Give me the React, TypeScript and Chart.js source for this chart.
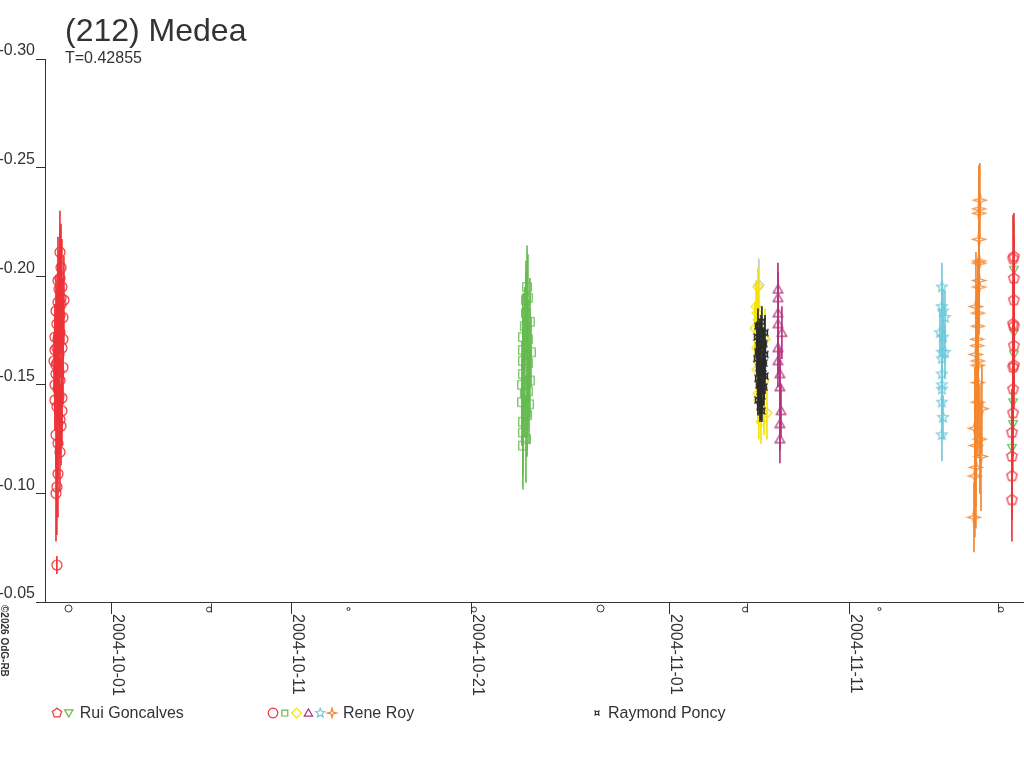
import { useEffect, useRef } from 'react';
import { Chart, registerables } from 'chart.js';

Chart.register(...registerables);

const FONT = '"Liberation Sans", Arial, sans-serif';
const TEXT = '#333333';

// x values are days counted from 2004-10-01 00:00 UT
const titleText = '(212) Medea';
const subtitleText = 'T=0.42855';
const copyrightText = '\u00a92026 OdG-RB';

const xTickDays = [0, 10, 20, 31, 41];
const xTickLabels = ['2004-10-01', '2004-10-11', '2004-10-21', '2004-11-01', '2004-11-11'];
const yTickValues = [-0.3, -0.25, -0.2, -0.15, -0.1, -0.05];

const moonDays = [-2.45, 5.43, 13.12, 19.92, 27.13, 35.25, 42.6, 49.24];
const moonPhases = ['full', 'last', 'new', 'first', 'full', 'last', 'new', 'first'];

// Rene Roy, red circles
const royRedDays = [-3.06, -3.11, -3.06, -3.0, -2.89, -3.0, -3.11, -2.83, -2.89, -3.06, -3.17, -2.78, -3.0, -3.17, -2.89, -3.11, -2.72, -3.06, -2.94, -3.17, -2.78, -3.0, -3.17, -2.89, -3.06, -2.72, -2.89, -3.11, -3.0, -2.83, -2.94, -2.78, -3.0, -2.89, -2.83, -2.89, -3.22, -2.72, -3.11, -2.94, -2.78, -2.83, -2.67, -3.06, -2.94];
const royRedMags = [-0.067, -0.1, -0.103, -0.109, -0.119, -0.123, -0.127, -0.131, -0.134, -0.14, -0.143, -0.144, -0.148, -0.15, -0.152, -0.155, -0.158, -0.16, -0.164, -0.166, -0.167, -0.171, -0.172, -0.174, -0.178, -0.181, -0.182, -0.184, -0.188, -0.19, -0.194, -0.195, -0.198, -0.199, -0.204, -0.211, -0.161, -0.171, -0.159, -0.145, -0.138, -0.187, -0.189, -0.167, -0.156];
const royRedErrs = [0.004, 0.022, 0.022, 0.02, 0.018, 0.016, 0.015, 0.018, 0.016, 0.015, 0.014, 0.016, 0.015, 0.014, 0.016, 0.015, 0.017, 0.015, 0.016, 0.014, 0.018, 0.016, 0.015, 0.017, 0.016, 0.018, 0.017, 0.016, 0.018, 0.02, 0.018, 0.022, 0.02, 0.022, 0.02, 0.019, 0.013, 0.018, 0.014, 0.015, 0.016, 0.018, 0.02, 0.015, 0.016];

// Rene Roy, green squares
const royGreenDays = [23.06, 23.11, 23.0, 23.22, 22.94, 22.83, 23.11, 22.83, 23.28, 22.83, 23.11, 22.83, 23.22, 22.78, 23.11, 22.78, 23.17, 22.83, 22.83, 23.0, 22.83, 23.0, 23.06, 22.94, 23.06];
const royGreenMags = [-0.195, -0.19, -0.189, -0.179, -0.177, -0.172, -0.171, -0.166, -0.165, -0.161, -0.16, -0.155, -0.152, -0.15, -0.147, -0.142, -0.141, -0.133, -0.128, -0.125, -0.122, -0.183, -0.164, -0.146, -0.136];
const royGreenErrs = [0.019, 0.02, 0.018, 0.02, 0.018, 0.02, 0.018, 0.02, 0.016, 0.02, 0.018, 0.02, 0.017, 0.02, 0.018, 0.02, 0.018, 0.022, 0.02, 0.02, 0.02, 0.018, 0.019, 0.02, 0.019];

// Rene Roy, yellow diamonds
const royYellowDays = [35.89, 35.78, 35.83, 35.89, 35.72, 36.28, 35.83, 35.89, 35.83, 36.22, 35.89, 35.94, 36.39, 36.06];
const royYellowMags = [-0.195, -0.186, -0.183, -0.18, -0.176, -0.171, -0.167, -0.161, -0.157, -0.152, -0.146, -0.143, -0.137, -0.133];
const royYellowErrs = [0.009, 0.012, 0.012, 0.014, 0.012, 0.014, 0.012, 0.014, 0.012, 0.025, 0.014, 0.018, 0.012, 0.01];

// rejected point, grey diamond
const greyDays = [35.94];
const greyMags = [-0.196];
const greyErrs = [0.012];

// Rene Roy, magenta triangles
const royMagentaDays = [37.0, 37.0, 37.0, 37.0, 37.22, 37.0, 37.0, 37.11, 37.11, 37.17, 37.11, 37.11];
const royMagentaMags = [-0.194, -0.19, -0.183, -0.178, -0.174, -0.167, -0.161, -0.155, -0.149, -0.138, -0.132, -0.125];
const royMagentaErrs = [0.012, 0.012, 0.012, 0.012, 0.012, 0.012, 0.012, 0.012, 0.012, 0.012, 0.012, 0.011];

// Rene Roy, cyan stars
const royCyanDays = [46.11, 46.11, 46.17, 46.28, 46.0, 46.17, 46.11, 46.28, 46.11, 46.11, 46.11, 46.11, 46.11, 46.17, 46.11];
const royCyanMags = [-0.195, -0.186, -0.184, -0.181, -0.174, -0.172, -0.165, -0.165, -0.162, -0.155, -0.15, -0.148, -0.142, -0.135, -0.127];
const royCyanErrs = [0.011, 0.01, 0.01, 0.012, 0.01, 0.01, 0.011, 0.012, 0.01, 0.01, 0.011, 0.01, 0.01, 0.01, 0.012];

// Rene Roy, orange four-point stars
const royOrangeDays = [48.22, 48.17, 48.17, 48.17, 48.17, 48.17, 48.17, 48.17, 48.0, 48.11, 48.11, 48.06, 48.06, 48.0, 48.11, 48.11, 48.11, 48.11, 48.33, 47.94, 48.22, 48.0, 48.28, 48.0, 47.94, 47.89];
const royOrangeMags = [-0.235, -0.231, -0.229, -0.217, -0.207, -0.206, -0.198, -0.195, -0.186, -0.183, -0.177, -0.171, -0.168, -0.164, -0.161, -0.159, -0.151, -0.142, -0.139, -0.13, -0.125, -0.122, -0.117, -0.112, -0.108, -0.089];
const royOrangeErrs = [0.017, 0.02, 0.02, 0.022, 0.022, 0.02, 0.022, 0.022, 0.025, 0.025, 0.025, 0.025, 0.025, 0.025, 0.025, 0.025, 0.025, 0.025, 0.02, 0.028, 0.025, 0.028, 0.025, 0.028, 0.028, 0.016];

// Raymond Poncy, black
const ponDays = [36.11, 35.89, 36.06, 36.28, 35.83, 36.0, 36.22, 35.94, 36.17, 35.89, 36.28, 35.83, 36.06, 36.22, 35.94, 36.0, 36.17, 36.28, 35.89, 36.06, 35.94, 36.22, 36.0, 36.11, 35.89, 36.06, 36.0, 36.11];
const ponMags = [-0.179, -0.177, -0.175, -0.174, -0.172, -0.171, -0.169, -0.168, -0.166, -0.165, -0.164, -0.162, -0.161, -0.16, -0.158, -0.157, -0.155, -0.154, -0.153, -0.151, -0.15, -0.149, -0.147, -0.145, -0.143, -0.142, -0.14, -0.138];
const ponErrs = [0.007, 0.008, 0.007, 0.008, 0.007, 0.008, 0.007, 0.008, 0.007, 0.008, 0.007, 0.008, 0.007, 0.008, 0.007, 0.008, 0.007, 0.008, 0.007, 0.008, 0.007, 0.008, 0.007, 0.008, 0.007, 0.008, 0.007, 0.005];

// Rui Goncalves, red pentagons
const ruiRedDays = [50.11, 50.06, 50.11, 50.11, 50.06, 50.11, 50.11, 50.11, 50.06, 50.06, 50.06, 50.0, 50.0, 50.0, 50.0];
const ruiRedMags = [-0.209, -0.208, -0.199, -0.189, -0.178, -0.177, -0.168, -0.159, -0.158, -0.148, -0.137, -0.128, -0.117, -0.108, -0.097];
const ruiRedErrs = [0.02, 0.02, 0.02, 0.02, 0.02, 0.02, 0.02, 0.02, 0.02, 0.02, 0.02, 0.02, 0.02, 0.02, 0.019];

// Rui Goncalves, green down triangles
const ruiGreenDays = [50.11, 50.11, 50.11, 50.06, 50.06, 50.0];
const ruiGreenMags = [-0.203, -0.174, -0.164, -0.142, -0.132, -0.121];
const ruiGreenErrs = [0.022, 0.022, 0.022, 0.022, 0.022, 0.022];

const RED = '#ee3338';
const GREEN = '#66bb50';
const YELLOW = '#f5e400';
const MAGENTA = '#b3337e';
const CYAN = '#6ecadb';
const ORANGE = '#f4862e';
const BLACK = '#2a2a2a';
const GREY = '#c8c8c8';

type Shape = 'circle' | 'square' | 'diamond' | 'triangle' | 'triangleDown' | 'pentagon' | 'star5' | 'star4' | 'currency';

// listed bottom to top, in the order they are painted
const series = [
  { label: 'Rene Roy red', shape: 'circle' as Shape, color: RED, r: 5, days: royRedDays, mags: royRedMags, errs: royRedErrs },
  { label: 'Rene Roy green', shape: 'square' as Shape, color: GREEN, r: 5, days: royGreenDays, mags: royGreenMags, errs: royGreenErrs },
  { label: 'rejected', shape: 'diamond' as Shape, color: GREY, r: 5, days: greyDays, mags: greyMags, errs: greyErrs },
  { label: 'Rene Roy yellow', shape: 'diamond' as Shape, color: YELLOW, r: 5, days: royYellowDays, mags: royYellowMags, errs: royYellowErrs },
  { label: 'Raymond Poncy', shape: 'currency' as Shape, color: BLACK, r: 5, days: ponDays, mags: ponMags, errs: ponErrs },
  { label: 'Rene Roy magenta', shape: 'triangle' as Shape, color: MAGENTA, r: 5.5, days: royMagentaDays, mags: royMagentaMags, errs: royMagentaErrs },
  { label: 'Rene Roy cyan', shape: 'star5' as Shape, color: CYAN, r: 5.5, days: royCyanDays, mags: royCyanMags, errs: royCyanErrs },
  { label: 'Rene Roy orange', shape: 'star4' as Shape, color: ORANGE, r: 6.5, days: royOrangeDays, mags: royOrangeMags, errs: royOrangeErrs },
  { label: 'Rui Goncalves green', shape: 'triangleDown' as Shape, color: GREEN, r: 5, days: ruiGreenDays, mags: ruiGreenMags, errs: ruiGreenErrs },
  { label: 'Rui Goncalves red', shape: 'pentagon' as Shape, color: RED, r: 5.5, days: ruiRedDays, mags: ruiRedMags, errs: ruiRedErrs },
];

const legendGroups: { name: string; marks: [Shape, string][] }[] = [
  { name: 'Rui Goncalves', marks: [['pentagon', RED], ['triangleDown', GREEN]] },
  { name: 'Rene Roy', marks: [['circle', RED], ['square', GREEN], ['diamond', YELLOW], ['triangle', MAGENTA], ['star5', CYAN], ['star4', ORANGE]] },
  { name: 'Raymond Poncy', marks: [['currency', BLACK]] },
];
const legendStarts = [57, 273, 597];

function polygon(ctx: CanvasRenderingContext2D, x: number, y: number, n: number, outer: number, inner: number | null, rot: number) {
  const pts = inner == null ? n : n * 2;
  for (let i = 0; i < pts; i++) {
    const a = rot + (i * Math.PI * 2) / pts;
    const rr = inner == null || i % 2 === 0 ? outer : inner;
    const px = x + rr * Math.cos(a);
    const py = y + rr * Math.sin(a);
    if (i === 0) ctx.moveTo(px, py);
    else ctx.lineTo(px, py);
  }
  ctx.closePath();
}

function drawShape(ctx: CanvasRenderingContext2D, shape: Shape, x: number, y: number, r: number) {
  ctx.beginPath();
  const up = -Math.PI / 2;
  switch (shape) {
    case 'circle':
      ctx.arc(x, y, r, 0, Math.PI * 2);
      break;
    case 'square': {
      const s = r * 0.85;
      ctx.rect(x - s, y - s, 2 * s, 2 * s);
      break;
    }
    case 'diamond':
      polygon(ctx, x, y, 4, r, null, up);
      break;
    case 'triangle':
      polygon(ctx, x, y + r * 0.15, 3, r, null, up);
      break;
    case 'triangleDown':
      polygon(ctx, x, y - r * 0.15, 3, r, null, Math.PI / 2);
      break;
    case 'pentagon':
      polygon(ctx, x, y, 5, r, null, up);
      break;
    case 'star5':
      polygon(ctx, x, y, 5, r, r * 0.45, up);
      break;
    case 'star4':
      polygon(ctx, x, y, 4, r, r * 0.3, up);
      break;
    case 'currency': {
      const c = r * 0.5;
      ctx.arc(x, y, c, 0, Math.PI * 2);
      for (let k = 0; k < 4; k++) {
        const a = Math.PI / 4 + (k * Math.PI) / 2;
        ctx.moveTo(x + c * Math.cos(a), y + c * Math.sin(a));
        ctx.lineTo(x + r * Math.cos(a), y + r * Math.sin(a));
      }
      break;
    }
  }
  ctx.stroke();
}

function markerCanvas(shape: Shape, color: string, r: number) {
  const size = Math.ceil(r * 2 + 4);
  const c = document.createElement('canvas');
  c.width = size;
  c.height = size;
  const ctx = c.getContext('2d')!;
  ctx.strokeStyle = color;
  ctx.lineWidth = shape === 'currency' ? 1.5 : 1.2;
  drawShape(ctx, shape, size / 2, size / 2, r);
  return c;
}

const decorPlugin = {
  id: 'decor',
  afterDraw(chart: Chart) {
    const { ctx } = chart;
    const xs = chart.scales.x;
    ctx.save();
    ctx.fillStyle = TEXT;
    ctx.strokeStyle = TEXT;
    ctx.textAlign = 'left';
    ctx.textBaseline = 'alphabetic';

    ctx.font = `32px ${FONT}`;
    ctx.fillText(titleText, 65, 41);
    ctx.font = `16px ${FONT}`;
    ctx.fillText(subtitleText, 65, 63);

    // date labels, turned clockwise under their ticks
    xTickDays.forEach((d, i) => {
      const px = xs.getPixelForValue(d);
      ctx.save();
      ctx.translate(px + 1, xs.top + 12);
      ctx.rotate(Math.PI / 2);
      ctx.fillText(xTickLabels[i], 0, 0);
      ctx.restore();
    });

    // moon phases along the date axis
    ctx.lineWidth = 1;
    moonDays.forEach((d, i) => {
      const px = Math.round(xs.getPixelForValue(d)) + 0.5;
      const py = xs.top + 6.5;
      ctx.beginPath();
      if (moonPhases[i] === 'full') {
        ctx.arc(px, py, 3.5, 0, Math.PI * 2);
      } else if (moonPhases[i] === 'new') {
        ctx.arc(px, py + 0.5, 1.5, 0, Math.PI * 2);
      } else if (moonPhases[i] === 'last') {
        ctx.arc(px - 1.5, py + 1, 2.5, 0, Math.PI * 2);
        ctx.moveTo(px + 1, py - 5);
        ctx.lineTo(px + 1, py + 4);
      } else {
        ctx.arc(px + 2.5, py + 1, 2.5, 0, Math.PI * 2);
        ctx.moveTo(px, py - 5);
        ctx.lineTo(px, py + 4);
      }
      ctx.stroke();
    });

    ctx.save();
    ctx.font = `bold 10px ${FONT}`;
    ctx.translate(1, 605);
    ctx.rotate(Math.PI / 2);
    ctx.fillText(copyrightText, 0, 0);
    ctx.restore();

    // legend
    ctx.font = `16px ${FONT}`;
    ctx.lineWidth = 1.2;
    legendGroups.forEach((g, gi) => {
      let cx = legendStarts[gi];
      g.marks.forEach(([shape, color], k) => {
        ctx.strokeStyle = color;
        drawShape(ctx, shape, cx, 713, shape === 'square' ? 3.5 : shape === 'currency' ? 3.5 : 4.8);
        if (k < g.marks.length - 1) cx += 11.8;
      });
      ctx.fillStyle = TEXT;
      ctx.fillText(g.name, cx + 11, 718);
    });
    ctx.restore();
  },
};

export default function App() {
  const canvasRef = useRef<HTMLCanvasElement>(null);
  const chartRef = useRef<Chart | null>(null);

  useEffect(() => {
    if (!canvasRef.current) return;
    if (chartRef.current) chartRef.current.destroy();

    const datasets: any[] = [];
    const n = series.length;
    series.forEach((s, si) => {
      // lower order is painted later, so later series sit on top
      const base = (n - si) * 2;
      datasets.push({
        type: 'bar',
        label: s.label + ' error',
        data: s.days.map((d, i) => ({ x: d, y: [s.mags[i] - s.errs[i], s.mags[i] + s.errs[i]] })),
        backgroundColor: s.color,
        borderWidth: 0,
        barThickness: 1,
        grouped: false,
        order: base,
      });
      datasets.push({
        type: 'scatter',
        label: s.label,
        data: s.days.map((d, i) => ({ x: d, y: s.mags[i] })),
        pointStyle: markerCanvas(s.shape, s.color, s.r),
        pointRadius: s.r,
        order: base - 1,
      });
    });

    chartRef.current = new Chart(canvasRef.current, {
      type: 'scatter',
      data: { datasets },
      plugins: [decorPlugin],
      options: {
        responsive: false,
        animation: false,
        events: [],
        layout: { autoPadding: false, padding: { top: 59, left: 0, right: 0, bottom: 146 } },
        plugins: { legend: { display: false }, tooltip: { enabled: false }, title: { display: false } },
        scales: {
          x: {
            type: 'linear',
            min: -3.72,
            max: 50.67,
            offset: false,
            afterBuildTicks: (scale: any) => {
              scale.ticks = xTickDays.map((v) => ({ value: v }));
            },
            afterFit: (scale: any) => {
              scale.height = 20;
            },
            ticks: { display: false },
            grid: { offset: false, drawOnChartArea: false, drawTicks: true, tickLength: 12, color: TEXT },
            border: { display: true, color: TEXT, width: 1 },
          },
          y: {
            type: 'linear',
            reverse: true,
            min: -0.3,
            max: -0.05,
            afterBuildTicks: (scale: any) => {
              scale.ticks = yTickValues.map((v) => ({ value: v }));
            },
            afterFit: (scale: any) => {
              scale.width = 45;
            },
            ticks: {
              color: TEXT,
              font: { family: FONT, size: 16 },
              padding: 1,
              labelOffset: -8,
              callback: (v: any) => Number(v).toFixed(2),
            },
            grid: { offset: false, drawOnChartArea: false, drawTicks: true, tickLength: 9, color: TEXT },
            border: { display: true, color: TEXT, width: 1 },
          },
        },
      },
    } as any);

    return () => {
      chartRef.current?.destroy();
      chartRef.current = null;
    };
  }, []);

  return (
    <div style={{ position: 'absolute', left: 0, top: 0, width: 1024, height: 768, background: '#fff' }}>
      <canvas ref={canvasRef} width={1024} height={768} />
    </div>
  );
}
